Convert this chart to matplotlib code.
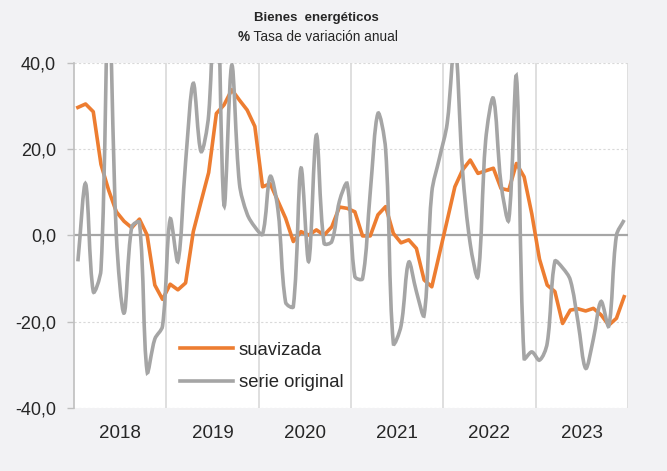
import matplotlib.pyplot as plt
import numpy as np
from matplotlib.path import Path
from matplotlib.patches import PathPatch
from matplotlib.lines import Line2D
from matplotlib.ticker import FuncFormatter

plt.rcParams['font.family'] = ['Liberation Sans', 'DejaVu Sans']

# ---------------------------------------------
# Data: monthly values, Jan 2018 - Dec 2023
# ---------------------------------------------
years = ['2018', '2019', '2020', '2021', '2022', '2023']

suavizada = [
    29.7, 30.5, 28.7, 16.5, 10.5, 5.5, 3.3, 1.8, 3.8, 0.1, -11.5, -14.8,      # 2018
    -11.3, -12.6, -11.0, 0.9, 7.8, 14.6, 28.3, 30.3, 33.8, 31.4, 29.1, 25.3,  # 2019
    11.3, 12.0, 8.0, 4.0, -1.4, 0.9, 0.1, 1.3, 0.1, 2.0, 6.6, 6.3,            # 2020
    5.5, -0.1, -0.1, 4.8, 6.7, 0.5, -1.7, -1.0, -3.0, -10.3, -11.9, -4.2,     # 2021
    3.5, 11.3, 15.2, 17.5, 14.4, 15.0, 15.6, 10.9, 10.5, 16.7, 13.6, 5.0,     # 2022
    -5.5, -11.5, -13.0, -20.4, -17.3, -17.0, -17.5, -16.9, -18.4, -20.8, -19.2, -14.2,  # 2023
]

serie_original = [
    -6.0, 12.0, -13.0, -8.0, 55.0, 0.0, -18.0, 2.0, 3.0, -31.6, -24.0, -21.0,
    3.8, -6.0, 17.0, 35.3, 19.5, 28.0, 65.0, 7.0, 39.5, 12.0, 5.0, 2.0,
    0.3, 13.7, 6.0, -15.5, -16.5, 15.6, -6.0, 23.3, -1.8, -1.4, 8.0, 12.0,
    -9.5, -10.0, 10.0, 28.3, 20.0, -25.0, -21.0, -6.2, -13.0, -18.5, 10.0, 18.0,
    26.0, 45.0, 15.0, -2.0, -9.5, 22.0, 31.8, 12.0, 3.6, 36.8, -28.5, -27.0,
    -28.9, -25.0, -6.0, -7.5, -10.3, -20.0, -30.8, -24.0, -15.3, -21.0, 0.0, 3.6,
]

ORANGE = '#ed7d31'
GRAY = '#a5a5a5'


def smooth_path(ax, xs, ys):
    # Excel-like smoothed line: cubic Bezier, control arms weighted by
    # the on-screen length of the neighbouring segments
    pts = ax.transData.transform(np.column_stack([xs, ys]).astype(float))
    ext = np.vstack([pts[0], pts, pts[-1]])
    verts = [pts[0]]
    codes = [Path.MOVETO]
    for i in range(len(pts) - 1):
        p0, p1, p2, p3 = ext[i], ext[i + 1], ext[i + 2], ext[i + 3]
        d01 = np.hypot(*(p1 - p0))
        d12 = np.hypot(*(p2 - p1))
        d23 = np.hypot(*(p3 - p2))
        c1 = p1 + (p2 - p0) * (d12 / (d01 + d12) / 3 if d01 + d12 else 0)
        c2 = p2 - (p3 - p1) * (d12 / (d12 + d23) / 3 if d12 + d23 else 0)
        verts += [c1, c2, p2]
        codes += [Path.CURVE4] * 3
    verts = ax.transData.inverted().transform(np.array(verts))
    return Path(verts, codes)


x = np.arange(len(suavizada))

fig = plt.figure(figsize=(6.67, 4.71), dpi=100, facecolor='#f2f2f4')
ax = fig.add_axes([0.111, 0.1338, 0.8305, 0.7324])
ax.set_facecolor('white')

ax.set_xlim(-0.5, len(x) - 0.5)
ax.set_ylim(-40, 40)

# grid
for yv in (-40, -20, 20, 40):
    ax.axhline(yv, color='#d9d9d9', lw=0.8, ls=(0, (2, 2)), zorder=1)
for k in range(1, len(years) + 1):
    ax.axvline(-0.5 + 12 * k, color='#d9d9d9', lw=1.2, zorder=1)
ax.axhline(0, color='#a6a6a6', lw=1.6, zorder=2)

# series
ax.plot(x, suavizada, color=ORANGE, lw=2.6, zorder=3)
ax.add_patch(PathPatch(smooth_path(ax, x, serie_original), fc='none', ec=GRAY,
                       lw=2.6, zorder=4))

# axes styling
for s in ('top', 'right', 'bottom'):
    ax.spines[s].set_visible(False)
ax.spines['left'].set_color('#bfbfbf')
ax.spines['left'].set_linewidth(1.2)

ax.set_yticks([-40, -20, 0, 20, 40])
ax.yaxis.set_major_formatter(FuncFormatter(lambda v, p: f'{v:.1f}'.replace('.', ',')))
ax.tick_params(axis='y', length=5, width=1, color='#bfbfbf', pad=8,
               labelsize=13, labelcolor='#262626')

ax.set_xticks([12 * k + 5.5 for k in range(len(years))])
ax.set_xticklabels(years)
ax.tick_params(axis='x', length=0, pad=12, labelsize=13.5, labelcolor='#262626')

# legend
handles = [Line2D([], [], color=ORANGE, lw=2.6), Line2D([], [], color=GRAY, lw=2.6)]
ax.legend(handles, ['suavizada', 'serie original'], loc='center left',
          bbox_to_anchor=(0.191, 0.12), frameon=False, fontsize=13.3,
          handlelength=2.9, handletextpad=0.3, labelspacing=0.85,
          borderpad=0, borderaxespad=0, labelcolor='#262626')

# titles
fig.text(0.475, 1 - 18 / 471, 'Bienes  energéticos', ha='center', va='center',
         fontsize=9.5, fontweight='bold', color='#262626')

# subtitle: bold "%" followed by regular text, centred together
r = fig.canvas.get_renderer()
t1 = fig.text(0, 1 - 37 / 471, '%', fontsize=9.8, fontweight='bold', va='center',
              color='#262626')
t2 = fig.text(0, 1 - 37 / 471, ' Tasa de variación anual', fontsize=9.8,
              va='center', color='#262626')
w1 = t1.get_window_extent(r).width
w2 = t2.get_window_extent(r).width
start = 0.476 * fig.bbox.width - (w1 + w2) / 2
t1.set_x(start / fig.bbox.width)
t2.set_x((start + w1) / fig.bbox.width)

fig.savefig('out.png', dpi=100, facecolor=fig.get_facecolor())
